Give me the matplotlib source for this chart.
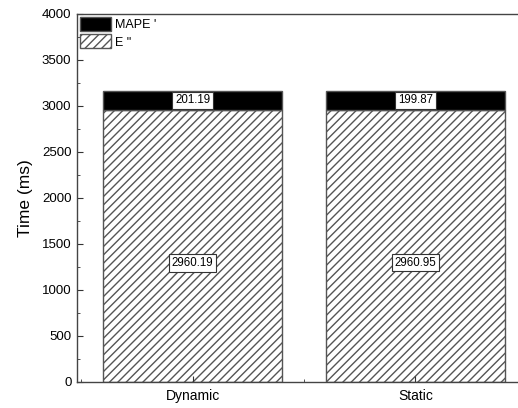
import numpy as np
import matplotlib.pyplot as plt
from matplotlib.patches import Patch

plt.rcParams['font.family'] = ['Liberation Sans', 'DejaVu Sans']
plt.rcParams['hatch.linewidth'] = 1.0
plt.rcParams['hatch.color'] = '#1a1a1a'

categories = ['Dynamic', 'Static']
e_values = [2960.19, 2960.95]
mape_values = [201.19, 199.87]

x = np.arange(len(categories))

fig = plt.figure(figsize=(5.18, 4.08), dpi=100)
ax = fig.add_axes([77 / 518, 26 / 408, 454 / 518, 368 / 408])

ax.bar(x, e_values, width=0.8, color='white', edgecolor='#555555',
       linewidth=1.0, hatch='////')
ax.bar(x, mape_values, width=0.8, bottom=e_values, color='black',
       edgecolor='#555555', linewidth=1.0)

box = dict(boxstyle='square,pad=0.22', fc='white', ec='#333333', lw=0.8)
for xi, e, m in zip(x, e_values, mape_values):
    ax.text(xi, e * 0.437, f'{e:.2f}', ha='center', va='center',
            fontsize=8.3, bbox=box)
    ax.text(xi, e + m / 2, f'{m:.2f}', ha='center', va='center',
            fontsize=8.3, bbox=box)

ax.set_xlim(-0.518, 1.518)
ax.set_ylim(0, 4000)
ax.set_yticks(np.arange(0, 4001, 500))
ax.set_yticks(np.arange(250, 4000, 500), minor=True)
ax.set_xticks(x)
ax.set_xticks([-0.5, 0.5, 1.5], minor=True)
ax.set_xticklabels(categories, fontsize=10)
ax.tick_params(axis='y', labelsize=9.5, pad=4)
ax.tick_params(which='both', direction='in', color='#333333')
ax.tick_params(which='major', length=4)
ax.tick_params(which='minor', length=2.5)
ax.tick_params(axis='x', pad=5)
ax.set_ylabel('Time (ms)', fontsize=12.5, labelpad=6)
for s in ax.spines.values():
    s.set_color('#444444')
    s.set_linewidth(1.0)

handles = [Patch(facecolor='black', edgecolor='#555555', label="MAPE '"),
           Patch(facecolor='white', edgecolor='#555555', hatch='////',
                 label='E "')]
ax.legend(handles=handles, loc='upper left', frameon=False, fontsize=9,
          handlelength=2.5, handleheight=1.35, handletextpad=0.3,
          labelspacing=0.25, borderaxespad=0.0, borderpad=0.25)

fig.savefig('out.png', dpi=100)
